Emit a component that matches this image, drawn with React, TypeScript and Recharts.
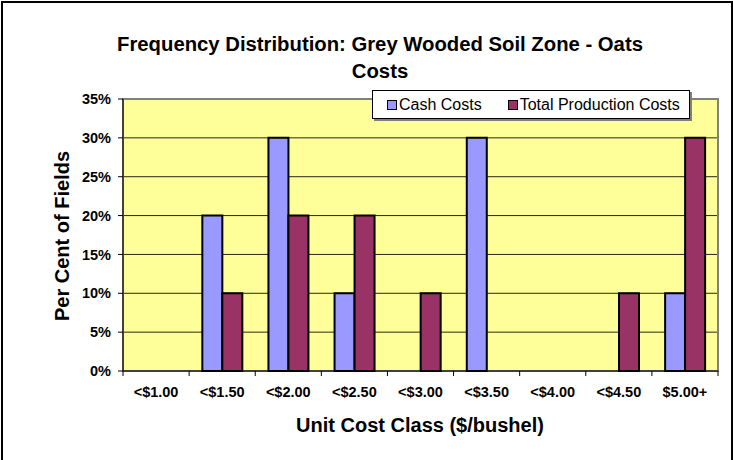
import React from "react";
import { BarChart, Bar, XAxis, YAxis, CartesianGrid, ReferenceArea } from "recharts";

const categories = ["<$1.00", "<$1.50", "<$2.00", "<$2.50", "<$3.00", "<$3.50", "<$4.00", "<$4.50", "$5.00+"];
const cashCosts = [0, 20, 30, 10, 0, 30, 0, 0, 10];
const totalProductionCosts = [0, 10, 20, 20, 10, 0, 0, 10, 30];
const yTicks = [0, 5, 10, 15, 20, 25, 30, 35];
const seriesNames = ["Cash Costs", "Total Production Costs"];
const seriesColors = ["#9999FF", "#993366"];

const data = categories.map((c, i) => ({ cat: c, cash: cashCosts[i], total: totalProductionCosts[i] }));

const FONT = "'Liberation Sans', Arial, sans-serif";
const W = 733;
const H = 460;
const margin = { top: 99, right: 15, bottom: 59, left: 63 };
const plotW = W - margin.left - 60 - margin.right;
const band = plotW / categories.length;

const XTick = (props: any) => {
  const { x, y, payload, index } = props;
  const left = x - band / 2;
  const right = x + band / 2;
  return (
    <g>
      <line x1={left} y1={y - 8} x2={left} y2={y - 3} stroke="#000" strokeWidth={1} />
      {index === categories.length - 1 && (
        <line x1={right} y1={y - 8} x2={right} y2={y - 3} stroke="#000" strokeWidth={1} />
      )}
      <text x={x} y={y + 18} textAnchor="middle" fontFamily={FONT} fontWeight="bold" fontSize={14.5} fill="#000">
        {payload.value}
      </text>
    </g>
  );
};

export default function App() {
  return (
    <div style={{ position: "absolute", left: 0, top: 0, width: W, height: H, background: "#fff", overflow: "hidden", fontFamily: FONT }}>
      <div style={{ position: "absolute", left: 1, top: 1, width: 728, height: 470, border: "2px solid #000" }} />
      <div style={{ position: "absolute", left: 0, top: 0 }}>
        <BarChart width={W} height={H} data={data} margin={margin} barCategoryGap="20%" barGap={0}>
          <CartesianGrid vertical={false} fill="#FFFF99" stroke="#000" strokeOpacity={0.85} />
          <ReferenceArea y1={0} y2={35} fill="none" stroke="#808080" strokeWidth={2} ifOverflow="visible" />
          <XAxis
            dataKey="cat"
            tickLine={false}
            axisLine={{ stroke: "#000" }}
            tick={<XTick />}
            height={30}
            interval={0}
          />
          <YAxis
            domain={[0, 35]}
            ticks={yTicks}
            tickFormatter={(v: number) => `${v}%`}
            width={60}
            tickSize={5}
            tickMargin={7}
            axisLine={{ stroke: "#000" }}
            tickLine={{ stroke: "#000" }}
            tick={{ fontFamily: FONT, fontWeight: "bold", fontSize: 14.5, fill: "#000" }}
          />
          <Bar dataKey="cash" name={seriesNames[0]} fill={seriesColors[0]} stroke="#000" strokeWidth={2} isAnimationActive={false} />
          <Bar dataKey="total" name={seriesNames[1]} fill={seriesColors[1]} stroke="#000" strokeWidth={2} isAnimationActive={false} />
        </BarChart>
      </div>
      <div style={{ position: "absolute", left: 0, width: 760, top: 31, textAlign: "center", fontWeight: "bold", fontSize: 20.3, lineHeight: "27px", color: "#000" }}>
        Frequency Distribution: Grey Wooded Soil Zone - Oats
        <br />
        Costs
      </div>
      <div style={{ position: "absolute", left: 62, top: 236, transform: "translate(-50%, -50%) rotate(-90deg)", whiteSpace: "nowrap", fontWeight: "bold", fontSize: 20, color: "#000" }}>
        Per Cent of Fields
      </div>
      <div style={{ position: "absolute", left: 420, top: 425, transform: "translate(-50%, -50%)", whiteSpace: "nowrap", fontWeight: "bold", fontSize: 20, color: "#000" }}>
        Unit Cost Class ($/bushel)
      </div>
      <div style={{ position: "absolute", left: 372, top: 90, width: 316, height: 27, background: "#fff", border: "1px solid #000", boxShadow: "2px 2px 0 #808080", display: "flex", alignItems: "center", fontSize: 16, color: "#000" }}>
        {seriesNames.map((n, i) => (
          <div key={n} style={{ display: "flex", alignItems: "center", marginLeft: i === 0 ? 14 : 26 }}>
            <span style={{ display: "inline-block", width: 8, height: 8, background: seriesColors[i], border: "1.5px solid #000", marginRight: 2 }} />
            <span>{n}</span>
          </div>
        ))}
      </div>
    </div>
  );
}
